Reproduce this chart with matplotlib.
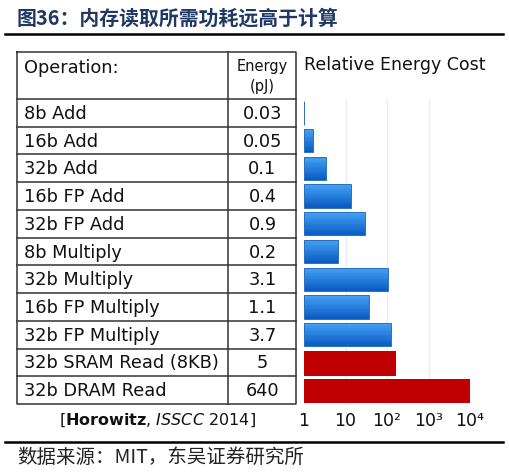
import numpy as np
import matplotlib
matplotlib.use("Agg")
import matplotlib.pyplot as plt
from matplotlib.colors import to_rgb

operations = ["8b Add", "16b Add", "32b Add", "16b FP Add", "32b FP Add",
              "8b Multiply", "32b Multiply", "16b FP Multiply", "32b FP Multiply",
              "32b SRAM Read (8KB)", "32b DRAM Read"]
energy_pj = [0.03, 0.05, 0.1, 0.4, 0.9, 0.2, 3.1, 1.1, 3.7, 5, 640]
energy_labels = ["0.03", "0.05", "0.1", "0.4", "0.9", "0.2", "3.1", "1.1", "3.7", "5", "640"]
is_memory = [False] * 9 + [True, True]
tick_vals = [1, 10, 100, 1000, 10000]
tick_labels = ["1", "10", "10²", "10³", "10⁴"]

plt.rcParams["font.family"] = ["DejaVu Sans"]
plt.rcParams["mathtext.fontset"] = "dejavusans"
cjk = ["Noto Sans CJK SC", "DejaVu Sans"]

W, H = 509, 476
fig = plt.figure(figsize=(W / 100, H / 100), dpi=100)

# overlay in pixel coordinates for title, table and rules
ov = fig.add_axes([0, 0, 1, 1])
ov.set_xlim(0, W)
ov.set_ylim(H, 0)
ov.axis("off")

ov.text(17, 18, "图36：内存读取所需功耗远高于计算", family=cjk, fontsize=14.3,
        fontweight="bold", color="#1f3864", va="center", ha="left")
ov.plot([5, 503], [34, 34], color="black", lw=1.8)
ov.plot([5, 503], [442, 442], color="black", lw=1.8)
ov.text(17, 457, "数据来源：MIT，东吴证券研究所", family=cjk, fontsize=14,
        color="#222222", va="center", ha="left")

# table
n = len(operations)
x_left, x_div, x_right = 17.5, 228.5, 296.5
y_top, y_head = 52, 99
row_h = (404 - y_head) / n
lc = "#333333"
fs = 12.8
ov.plot([x_left, x_right, x_right, x_left, x_left],
        [y_top, y_top, y_head + n * row_h, y_head + n * row_h, y_top], color=lc, lw=1.1)
ov.plot([x_div, x_div], [y_top, y_head + n * row_h], color=lc, lw=1.1)
for i in range(n):
    ov.plot([x_left, x_right], [y_head + i * row_h] * 2, color=lc, lw=1.1)
ov.text(24, 68, "Operation:", fontsize=fs, va="center", ha="left", color="#111111")
ov.text((x_div + x_right) / 2, 67, "Energy", fontsize=10.5, va="center", ha="center", color="#111111")
ov.text((x_div + x_right) / 2, 86, "(pJ)", fontsize=10.5, va="center", ha="center", color="#111111")
for i, (op, lab) in enumerate(zip(operations, energy_labels)):
    yc = y_head + (i + 0.5) * row_h + 1
    ov.text(24, yc, op, fontsize=fs, va="center", ha="left", color="#111111")
    ov.text((x_div + x_right) / 2, yc, lab, fontsize=fs, va="center", ha="center", color="#111111")
ov.text(157, 420, r"[$\bf{Horowitz}$, $\it{ISSCC}$ 2014]", fontsize=11.5,
        va="center", ha="center", color="#111111")
ov.text(304, 65, "Relative Energy Cost", fontsize=12.5, va="center", ha="left", color="#111111")

# bar chart
ax = fig.add_axes([304 / W, (H - 404) / H, (470 - 304) / W, (404 - 99) / H])
rel = np.array(energy_pj) / energy_pj[0]
ypos = np.arange(n)
ax.set_xscale("log")
ax.set_xlim(1, 1e4)
ax.set_ylim(n - 0.5, -0.5)
for v in tick_vals[1:]:
    ax.axvline(v, color="#ececec", lw=1, zorder=0)

top_c = np.array(to_rgb("#44a0f4"))
bot_c = np.array(to_rgb("#0a5cc2"))
nstrip = 14
h = 0.84
for i in range(n):
    if is_memory[i]:
        ax.barh(ypos[i] + 0.04, rel[i] - 1, left=1, height=0.88, color="#c00000",
                edgecolor="none", zorder=2)
    else:
        for k in range(nstrip):
            t = k / (nstrip - 1)
            c = top_c * (1 - t) + bot_c * t
            yk = ypos[i] - h / 2 + (k + 0.5) * h / nstrip
            ax.barh(yk, rel[i] - 1, left=1, height=h / nstrip * 1.05, color=c,
                    edgecolor="none", zorder=2)
        ax.barh(ypos[i], rel[i] - 1, left=1, height=h, facecolor="none",
                edgecolor="#2a70c0", lw=0.7, zorder=3)

ax.set_yticks([])
ax.set_xticks(tick_vals)
ax.set_xticklabels(tick_labels, fontsize=12.5, color="#111111")
ax.xaxis.set_minor_locator(matplotlib.ticker.NullLocator())
ax.tick_params(axis="x", length=0, pad=6)
for s in ax.spines.values():
    s.set_visible(False)

fig.savefig("out.png", dpi=100)
